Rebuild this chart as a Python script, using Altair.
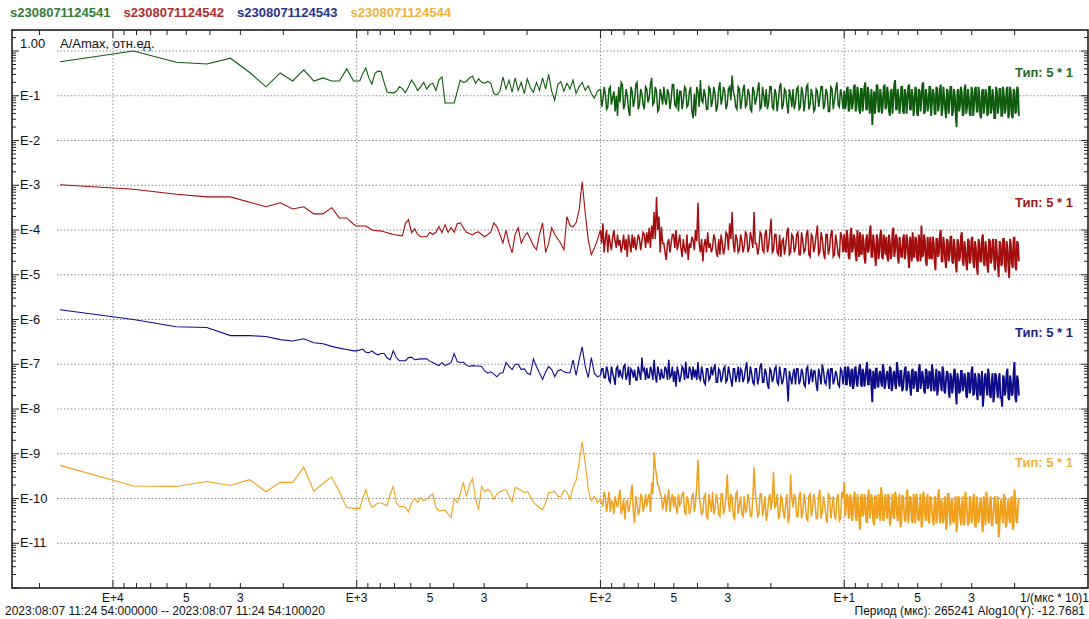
import math
import altair as alt
import pandas as pd

FONT = "Liberation Sans"

SERIES = ["s2308071124541", "s2308071124542", "s2308071124543", "s2308071124544"]
LINE_COLORS = ["#0e5c0e", "#a30d0d", "#0d0d8a", "#f0a01a"]
TEXT_COLORS = ["#2e7d32", "#b22a2a", "#27348b", "#f2b13c"]
TYPE_COLORS = ["#1f6b1f", "#a01818", "#1a237e", "#f0b040"]
TYPE_LABEL = "Тип: 5 * 1"

# ---- x grid: log10(period, мкс) ----
LP0 = 4.217                      # log10 of the longest period
HARMONICS = list(range(1, 17))   # first harmonics, drawn one by one
SEG_B = (3.0, 0.0125, 80)        # start, step, count (log10 period)
SEG_C = (2.0, 0.01, 100)
SEG_C2 = (1.995, 0.01, 100)      # in-between samples of segment C
SEG_D = (1.0, 0.0072, 100)
SEG_D2 = (0.9964, 0.0072, 100)   # in-between samples of segment D

# ---- series values: log10(A/Amax) incl. display offset (Тип 5*1) ----
GREEN_A = [-0.24, 0.0, -0.25, -0.29, -0.16, -0.48, -0.80, -0.49, -0.67, -0.42,
           -0.67, -0.60, -0.67, -0.67, -0.40, -0.67]
GREEN_B = [-0.67, -0.67, -0.5, -0.38, -0.6, -0.74, -0.5, -0.45, -0.46, -0.7,
           -0.92, -0.93, -0.94, -0.9, -0.8, -0.84, -0.93, -0.8, -0.65, -0.75,
           -0.88, -0.8, -0.7, -0.85, -0.75, -0.72, -0.88, -0.65, -0.58, -1.16,
           -1.16, -1.16, -1.16, -0.9, -0.65, -0.7, -0.68, -0.6, -0.56, -0.72,
           -0.62, -0.7, -0.72, -0.68, -0.72, -0.95, -0.98, -0.9, -0.58, -0.85,
           -0.65, -0.92, -0.6, -0.88, -0.7, -0.95, -0.62, -0.82, -0.92, -0.7,
           -0.88, -0.6, -0.85, -0.52, -0.9, -1.1, -0.75, -0.68, -0.9, -0.72,
           -0.85, -0.65, -0.95, -0.8, -0.7, -0.88, -0.78, -0.95, -1.05, -0.9]
GREEN_C = [-0.85, -1.1, -0.95, -1.25, -0.8, -1.05, -1.35, -1.45, -1.15, -0.75,
           -1.2, -1.0, -1.45, -0.9, -1.1, -0.7, -1.2, -0.95, -1.3, -0.85,
           -1.05, -0.6, -1.15, -0.9, -1.3, -1.0, -0.8, -1.2, -0.95, -1.1,
           -0.75, -1.25, -1.35, -0.9, -1.1, -0.85, -1.2, -0.8, -1.5, -1.45,
           -0.9, -0.65, -1.15, -1.0, -1.3, -0.85, -1.1, -0.95, -1.25, -0.7,
           -1.05, -0.9, -1.2, -0.8, -0.55, -1.0, -1.3, -0.85, -1.1, -0.75,
           -1.2, -0.95, -1.35, -0.9, -1.05, -0.7, -1.25, -1.0, -0.85, -1.15,
           -0.8, -1.3, -0.95, -1.1, -0.72, -1.2, -0.9, -1.4, -1.0, -0.85,
           -1.15, -0.8, -1.25, -0.95, -1.1, -0.75, -1.2, -1.0, -1.3, -0.9,
           -1.05, -0.8, -1.2, -0.95, -1.35, -0.85, -1.1, -0.7, -1.25, -1.0]
GREEN_C2 = [-1.25, -0.8, -1.3, -0.85, -1.2, -0.9, -1.0, -0.8, -0.7, -1.3,
            -0.85, -1.3, -0.8, -1.25, -0.75, -1.3, -0.85, -1.2, -0.8, -1.15,
            -0.75, -1.2, -0.8, -1.35, -0.85, -1.2, -1.1, -0.85, -1.3, -0.75,
            -1.2, -0.85, -0.9, -1.3, -0.8, -1.25, -0.9, -1.35, -0.95, -0.8,
            -1.25, -1.1, -0.85, -1.3, -0.8, -1.25, -0.8, -1.35, -0.85, -1.2,
            -0.8, -1.3, -0.85, -1.1, -0.9, -1.25, -0.8, -1.3, -0.85, -1.25,
            -0.85, -1.3, -0.8, -1.2, -0.85, -1.3, -0.8, -1.25, -1.3, -0.8,
            -1.25, -0.85, -1.35, -0.8, -1.3, -0.85, -1.2, -0.85, -1.25, -1.3,
            -0.85, -1.3, -0.8, -1.35, -0.8, -1.3, -0.85, -1.35, -0.85, -1.25,
            -0.8, -1.3, -0.85, -1.35, -0.8, -1.3, -0.85, -1.2, -0.85, -1.3]
GREEN_D = [-0.9, -1.2, -0.8, -1.3, -1.0, -1.15, -0.75, -1.25, -0.95, -1.4,
           -0.85, -1.1, -0.7, -1.3, -1.0, -1.2, -1.65, -0.9, -1.15, -0.8,
           -1.35, -1.0, -1.2, -0.75, -1.25, -0.95, -1.45, -0.85, -1.1, -0.65,
           -1.3, -1.05, -1.2, -0.8, -1.4, -0.95, -1.15, -0.75, -1.3, -1.0,
           -1.2, -0.85, -1.45, -0.9, -1.1, -0.7, -1.35, -1.0, -1.25, -0.8,
           -1.15, -0.95, -1.4, -0.85, -1.2, -0.75, -1.3, -1.05, -1.5, -0.9,
           -1.15, -0.8, -1.35, -1.0, -1.7, -0.85, -1.2, -0.95, -1.4, -0.75,
           -1.25, -1.05, -1.45, -0.9, -1.2, -0.8, -1.35, -1.0, -1.5, -0.85,
           -1.2, -0.95, -1.4, -0.8, -1.3, -1.05, -1.5, -0.9, -1.25, -0.85,
           -1.45, -1.0, -1.3, -0.8, -1.4, -0.95, -1.5, -0.9, -1.35, -0.85]
GREEN_D2 = [-1.3, -0.85, -1.35, -0.85, -1.3, -0.8, -1.35, -0.8, -1.3, -0.85,
            -1.35, -0.8, -1.3, -0.8, -1.4, -0.85, -1.2, -1.4, -0.75, -1.35,
            -0.85, -1.4, -0.8, -1.3, -0.8, -1.35, -0.9, -1.4, -0.75, -1.3,
            -0.85, -1.4, -0.8, -1.35, -0.85, -1.4, -0.8, -1.3, -0.85, -1.45,
            -0.8, -1.4, -0.85, -1.35, -0.75, -1.4, -0.85, -1.35, -0.8, -1.45,
            -0.85, -1.4, -0.8, -1.35, -0.85, -1.45, -0.8, -1.3, -0.85, -1.4,
            -0.8, -1.45, -0.85, -1.4, -0.9, -1.35, -0.8, -1.45, -0.85, -1.4,
            -0.85, -1.4, -0.8, -1.45, -0.85, -1.35, -0.8, -1.45, -0.9, -1.4,
            -0.85, -1.45, -0.8, -1.4, -0.85, -1.5, -0.8, -1.4, -0.85, -1.45,
            -0.8, -1.4, -0.85, -1.5, -0.8, -1.45, -0.85, -1.4, -0.8, -1.45]

RED_A = [-2.99, -3.09, -3.20, -3.26, -3.26, -3.38, -3.48, -3.39, -3.53, -3.48,
         -3.64, -3.64, -3.50, -3.73, -3.73, -3.87]
RED_B = [-3.91, -3.91, -3.91, -3.91, -3.95, -4.0, -4.01, -4.02, -4.02, -4.04,
         -4.06, -4.08, -4.1, -4.11, -4.12, -4.13, -3.85, -3.77, -4.06, -3.97,
         -4.1, -4.15, -4.15, -4.15, -4.05, -4.1, -4.05, -3.92, -4.06, -3.88,
         -4.05, -3.95, -4.05, -3.86, -3.84, -3.95, -4.05, -4.08, -4.11, -4.06,
         -4.04, -4.1, -4.15, -4.1, -4.05, -3.84, -3.93, -4.1, -4.29, -4.0,
         -4.3, -4.51, -4.1, -3.95, -4.29, -4.15, -4.06, -4.2, -4.35, -4.44,
         -4.1, -3.84, -4.5, -4.3, -3.95, -4.1, -4.2, -4.3, -4.44, -3.7,
         -3.9, -3.93, -3.84, -3.55, -2.92, -3.62, -4.22, -4.55, -4.4, -4.22]
RED_C = [-4.0, -3.85, -4.2, -4.5, -4.3, -4.15, -4.25, -4.1, -4.22, -4.35,
         -4.45, -4.6, -4.3, -4.1, -4.15, -4.3, -4.2, -4.25, -4.1, -4.05,
         -3.95, -3.9, -3.6, -3.26, -3.7, -3.93, -4.3, -4.67, -4.2, -4.3,
         -4.1, -4.0, -4.3, -4.4, -4.2, -4.5, -4.67, -4.4, -4.22, -4.0,
         -3.39, -4.5, -4.7, -4.2, -4.05, -4.3, -4.4, -4.2, -4.6, -4.55,
         -4.3, -4.4, -4.1, -3.85, -3.6, -4.5, -4.2, -4.45, -4.25, -4.35,
         -4.1, -4.4, -4.2, -3.6, -4.3, -4.4, -4.1, -4.5, -4.0, -4.35,
         -3.75, -4.45, -4.1, -4.55, -4.6, -4.2, -4.35, -3.95, -4.5, -4.15,
         -4.4, -4.05, -4.55, -4.25, -4.45, -4.0, -4.6, -4.15, -4.35, -3.9,
         -4.5, -4.2, -4.65, -4.1, -4.4, -4.0, -4.55, -4.3, -4.6, -4.15]
RED_C2 = [-4.3, -4.5, -4.0, -4.1, -4.45, -4.0, -4.4, -4.35, -4.5, -4.1,
          -4.2, -4.1, -4.5, -4.4, -4.45, -4.1, -4.45, -4.05, -4.4, -4.3,
          -4.4, -4.2, -4.2, -4.0, -4.5, -4.3, -4.5, -4.3, -4.5, -4.1,
          -4.4, -4.45, -4.1, -4.6, -4.45, -4.1, -4.3, -4.15, -4.45, -4.25,
          -4.3, -4.2, -4.35, -4.5, -4.4, -4.5, -4.1, -4.5, -4.2, -4.1,
          -4.55, -4.05, -4.45, -4.2, -4.3, -4.1, -4.5, -4.1, -4.5, -4.05,
          -4.5, -4.05, -4.4, -4.3, -4.55, -4.05, -4.45, -4.1, -4.5, -4.05,
          -4.5, -4.1, -4.5, -4.1, -4.25, -4.55, -4.05, -4.55, -4.1, -4.5,
          -4.1, -4.55, -4.05, -4.5, -4.1, -4.55, -4.1, -4.5, -4.1, -4.55,
          -4.05, -4.5, -4.1, -4.55, -4.1, -4.6, -4.1, -4.55, -4.05, -4.5]
RED_D = [-4.1, -4.5, -4.2, -4.65, -3.95, -4.4, -4.2, -4.7, -4.3, -4.05,
         -4.55, -4.25, -4.75, -4.1, -4.45, -3.9, -4.6, -4.3, -4.8, -4.2,
         -4.5, -4.0, -4.65, -4.35, -4.15, -4.7, -4.3, -4.55, -3.95, -4.45,
         -4.2, -4.75, -4.35, -4.6, -4.1, -4.5, -4.25, -4.85, -4.3, -4.05,
         -4.6, -4.2, -4.7, -4.35, -3.9, -4.55, -4.25, -4.8, -4.4, -4.15,
         -4.65, -4.3, -4.9, -4.2, -4.5, -4.0, -4.7, -4.35, -4.85, -4.25,
         -4.55, -4.15, -4.75, -4.4, -4.95, -4.3, -4.6, -4.05, -4.8, -4.45,
         -4.9, -4.25, -4.65, -4.15, -4.85, -4.4, -5.0, -4.3, -4.7, -4.1,
         -4.8, -4.45, -4.95, -4.25, -4.65, -4.2, -4.9, -4.5, -5.05, -4.3,
         -4.75, -4.2, -4.95, -4.4, -5.07, -4.35, -4.85, -4.15, -4.9, -4.3]
RED_D2 = [-4.45, -4.0, -4.6, -4.1, -4.5, -4.1, -4.55, -4.0, -4.6, -4.5,
          -4.1, -4.6, -4.2, -4.5, -4.05, -4.6, -4.1, -4.55, -4.1, -4.65,
          -4.1, -4.6, -4.1, -4.55, -4.6, -4.1, -4.65, -4.05, -4.6, -4.1,
          -4.6, -4.15, -4.6, -4.2, -4.65, -4.1, -4.6, -4.15, -4.7, -4.6,
          -4.15, -4.65, -4.1, -4.7, -4.6, -4.1, -4.7, -4.15, -4.65, -4.6,
          -4.15, -4.7, -4.2, -4.6, -4.1, -4.7, -4.15, -4.65, -4.2, -4.7,
          -4.15, -4.7, -4.2, -4.75, -4.2, -4.7, -4.15, -4.7, -4.25, -4.75,
          -4.2, -4.75, -4.2, -4.7, -4.25, -4.8, -4.2, -4.7, -4.2, -4.75,
          -4.25, -4.8, -4.2, -4.75, -4.25, -4.8, -4.2, -4.75, -4.25, -4.8,
          -4.2, -4.75, -4.25, -4.8, -4.2, -4.75, -4.2, -4.8, -4.25, -4.7]

BLUE_A = [-5.78, -6.0, -6.16, -6.18, -6.36, -6.36, -6.38, -6.45, -6.48, -6.43,
          -6.52, -6.54, -6.6, -6.64, -6.67, -6.7]
BLUE_B = [-6.7, -6.68, -6.66, -6.73, -6.74, -6.7, -6.76, -6.79, -6.76, -6.76,
          -6.86, -6.9, -6.7, -6.85, -6.92, -6.92, -6.92, -6.85, -6.84, -6.9,
          -6.89, -6.88, -6.88, -6.88, -6.93, -6.96, -7.0, -7.03, -6.96, -7.03,
          -7.0, -6.96, -6.76, -6.94, -6.96, -6.95, -7.02, -7.05, -7.03, -7.04,
          -7.04, -7.05, -7.15, -7.2, -7.17, -7.22, -7.28, -7.2, -7.19, -6.96,
          -7.05, -7.12, -7.0, -7.0, -7.12, -7.1, -7.2, -7.23, -6.88, -7.05,
          -7.2, -7.34, -7.17, -7.05, -7.12, -7.28, -7.15, -7.12, -7.17, -7.19,
          -7.19, -6.9, -7.25, -6.9, -6.61, -7.05, -7.3, -6.85, -7.2, -7.28]
BLUE_C = [-7.25, -7.1, -7.3, -7.15, -7.4, -7.2, -7.46, -7.05, -7.12, -7.3,
          -7.01, -7.25, -7.46, -7.15, -7.12, -7.35, -7.2, -6.85, -7.1, -7.08,
          -7.3, -7.15, -6.9, -7.41, -7.2, -7.1, -7.3, -7.12, -6.9, -7.25,
          -7.4, -7.5, -7.2, -7.28, -7.1, -6.94, -7.3, -7.15, -7.05, -7.12,
          -6.95, -7.35, -7.2, -7.45, -7.1, -7.3, -7.25, -7.0, -7.4, -7.15,
          -7.3, -7.05, -7.35, -7.2, -7.5, -7.1, -7.25, -7.4, -7.15, -7.3,
          -6.95, -7.35, -7.2, -7.45, -7.1, -7.3, -6.98, -7.4, -7.2, -7.55,
          -7.15, -7.3, -7.05, -7.45, -7.25, -7.35, -7.1, -7.83, -7.3, -7.2,
          -7.45, -7.1, -7.35, -7.2, -7.5, -7.05, -7.3, -7.4, -7.15, -7.6,
          -7.25, -7.0, -7.4, -7.2, -7.55, -7.1, -7.35, -7.25, -7.5, -7.15]
BLUE_C2 = [-7.1, -7.3, -7.05, -7.35, -7.05, -7.3, -7.1, -7.3, -7.25, -7.05,
           -7.35, -7.05, -7.1, -7.3, -7.35, -7.05, -7.35, -7.15, -7.35, -7.3,
           -7.05, -7.35, -7.25, -7.05, -7.35, -7.3, -7.05, -7.35, -7.3, -7.05,
           -7.15, -7.05, -7.4, -7.05, -7.35, -7.3, -7.05, -7.35, -7.3, -7.35,
           -7.3, -7.05, -7.4, -7.1, -7.35, -7.05, -7.1, -7.4, -7.1, -7.4,
           -7.1, -7.4, -7.05, -7.35, -7.1, -7.4, -7.05, -7.1, -7.4, -7.1,
           -7.4, -7.05, -7.4, -7.1, -7.45, -7.05, -7.4, -7.1, -7.45, -7.1,
           -7.4, -7.1, -7.4, -7.05, -7.45, -7.1, -7.4, -7.15, -7.45, -7.1,
           -7.1, -7.45, -7.1, -7.45, -7.1, -7.45, -7.1, -7.15, -7.45, -7.1,
           -7.45, -7.15, -7.45, -7.1, -7.1, -7.45, -7.15, -7.45, -7.1, -7.45]
BLUE_D = [-7.2, -7.45, -7.05, -7.35, -7.15, -7.55, -7.1, -7.4, -7.25, -7.0,
          -7.5, -7.2, -7.35, -6.95, -7.45, -7.15, -7.85, -7.3, -7.1, -7.5,
          -7.2, -7.4, -7.0, -7.55, -7.25, -7.35, -7.05, -7.6, -7.2, -7.45,
          -6.95, -7.4, -7.15, -7.6, -7.3, -7.05, -7.5, -7.25, -7.7, -7.1,
          -7.45, -7.2, -7.6, -7.0, -7.4, -7.3, -7.65, -7.15, -7.5, -7.25,
          -7.0, -7.55, -7.3, -7.7, -7.15, -7.45, -7.05, -7.6, -7.35, -7.2,
          -7.75, -7.3, -7.5, -7.1, -7.9, -7.35, -7.6, -7.15, -7.5, -7.3,
          -7.75, -7.2, -7.55, -7.05, -7.65, -7.35, -7.8, -7.25, -7.6, -7.95,
          -7.3, -7.5, -7.1, -7.7, -7.4, -7.85, -7.2, -7.55, -7.35, -7.75,
          -7.95, -7.3, -7.6, -7.1, -7.8, -7.4, -7.65, -6.95, -7.85, -7.35]
BLUE_D2 = [-7.05, -7.45, -7.1, -7.5, -7.1, -7.45, -7.05, -7.5, -7.1, -7.45,
           -7.1, -7.5, -7.1, -7.45, -7.1, -7.5, -7.15, -7.55, -7.1, -7.5,
           -7.15, -7.5, -7.1, -7.45, -7.15, -7.55, -7.1, -7.5, -7.15, -7.55,
           -7.1, -7.5, -7.15, -7.55, -7.1, -7.6, -7.15, -7.5, -7.15, -7.55,
           -7.15, -7.6, -7.1, -7.55, -7.15, -7.6, -7.1, -7.55, -7.15, -7.6,
           -7.15, -7.6, -7.1, -7.55, -7.2, -7.6, -7.15, -7.65, -7.15, -7.6,
           -7.2, -7.65, -7.15, -7.6, -7.2, -7.65, -7.15, -7.6, -7.2, -7.7,
           -7.2, -7.65, -7.15, -7.7, -7.2, -7.65, -7.2, -7.7, -7.15, -7.7,
           -7.2, -7.7, -7.25, -7.75, -7.2, -7.7, -7.25, -7.75, -7.2, -7.75,
           -7.25, -7.7, -7.2, -7.75, -7.25, -7.7, -7.2, -7.75, -7.25, -7.7]

ORANGE_A = [-9.26, -9.72, -9.73, -9.62, -9.71, -9.58, -9.85, -9.64, -9.64, -9.3,
            -9.84, -9.66, -9.52, -9.85, -10.2, -10.22]
ORANGE_B = [-10.22, -10.22, -10.0, -9.8, -10.05, -10.2, -10.15, -10.1, -10.1, -10.13,
            -10.16, -9.9, -9.73, -10.1, -10.18, -10.18, -10.2, -10.3, -10.1, -10.0,
            -10.09, -9.98, -10.05, -10.02, -9.95, -9.9, -10.2, -10.28, -10.27, -10.26,
            -10.35, -10.42, -10.0, -10.09, -9.9, -9.64, -9.96, -9.7, -9.55, -10.0,
            -10.25, -9.73, -9.85, -9.8, -9.85, -10.02, -9.9, -9.85, -9.82, -9.8,
            -9.95, -10.07, -9.75, -9.78, -9.82, -9.87, -9.84, -9.95, -10.09, -10.15,
            -10.2, -10.25, -10.1, -9.87, -9.86, -9.84, -9.95, -9.96, -9.82, -9.85,
            -10.02, -9.75, -9.6, -9.2, -8.73, -9.2, -9.8, -10.05, -9.95, -10.1]
ORANGE_C = [-10.0, -10.18, -9.96, -10.1, -10.3, -10.09, -9.95, -10.2, -9.8, -10.25,
            -10.47, -10.05, -10.2, -9.69, -10.54, -10.1, -10.3, -9.96, -10.15, -10.18,
            -9.9, -9.64, -8.97, -9.5, -9.73, -9.95, -10.09, -10.3, -9.8, -10.05,
            -10.2, -10.18, -9.9, -10.1, -9.87, -10.35, -10.05, -10.25, -9.9, -10.1,
            -9.13, -10.15, -10.3, -9.9, -10.45, -10.1, -9.85, -10.25, -10.05, -10.4,
            -9.9, -10.2, -9.46, -10.3, -10.0, -10.45, -9.85, -10.15, -10.35, -9.95,
            -10.25, -10.05, -10.4, -9.3, -10.1, -10.35, -9.9, -10.2, -10.5, -10.0,
            -10.25, -9.4, -10.15, -10.45, -9.95, -10.3, -10.1, -10.55, -9.46, -10.2,
            -10.0, -10.4, -9.85, -10.3, -10.1, -10.5, -9.9, -10.25, -10.05, -10.45,
            -9.8, -10.3, -10.15, -10.55, -9.95, -10.2, -10.4, -10.0, -10.5, -9.85]
ORANGE_C2 = [-10.1, -9.85, -10.3, -9.85, -10.05, -10.35, -10.1, -10.0, -10.35, -10.0,
             -10.1, -10.3, -9.9, -10.3, -9.95, -10.35, -9.9, -10.3, -9.9, -10.0,
             -10.3, -9.9, -9.3, -9.7, -9.9, -10.25, -9.9, -10.0, -10.3, -9.9,
             -9.95, -10.35, -10.15, -9.9, -10.3, -9.95, -10.35, -9.95, -10.3, -9.7,
             -9.9, -10.35, -9.95, -10.4, -9.9, -10.3, -10.35, -9.9, -10.35, -9.9,
             -10.35, -9.95, -10.1, -9.9, -10.4, -9.9, -10.35, -9.95, -10.4, -10.3,
             -9.9, -10.4, -10.0, -9.85, -10.4, -9.9, -10.4, -9.95, -10.35, -9.9,
             -10.0, -10.2, -9.9, -10.4, -10.0, -10.45, -9.9, -10.4, -10.0, -9.9,
             -10.4, -9.95, -10.45, -9.9, -10.45, -9.95, -10.4, -9.9, -10.45, -9.95,
             -10.45, -9.95, -10.4, -9.9, -10.45, -9.95, -10.45, -9.9, -10.45, -10.0]
ORANGE_D = [-9.65, -10.2, -9.95, -10.4, -10.05, -10.3, -9.85, -10.5, -10.15, -10.7,
            -9.9, -10.35, -10.05, -10.55, -9.8, -10.25, -10.1, -10.6, -9.95, -10.4,
            -10.15, -9.75, -10.45, -10.05, -10.3, -9.9, -10.6, -10.2, -10.4, -9.85,
            -10.35, -10.1, -10.65, -9.95, -10.25, -10.5, -9.8, -10.3, -10.05, -10.55,
            -10.15, -9.9, -10.45, -10.2, -10.65, -9.85, -10.35, -10.1, -10.5, -9.95,
            -10.3, -10.6, -10.0, -10.4, -9.8, -10.25, -10.55, -10.1, -10.7, -9.9,
            -10.35, -10.05, -10.5, -10.2, -10.75, -9.95, -10.4, -10.15, -10.6, -9.85,
            -10.3, -10.55, -10.05, -10.45, -9.9, -10.65, -10.2, -10.4, -10.0, -10.75,
            -10.25, -9.85, -10.5, -10.1, -10.6, -10.3, -9.95, -10.55, -10.87, -10.15,
            -10.4, -9.9, -10.65, -10.2, -10.45, -10.05, -10.7, -9.8, -10.5, -10.2]
ORANGE_D2 = [-10.4, -9.9, -10.45, -9.9, -10.5, -9.95, -10.4, -9.9, -10.45, -9.95,
             -10.4, -9.9, -10.5, -9.95, -10.45, -9.9, -10.5, -9.95, -10.45, -9.9,
             -10.5, -9.95, -10.5, -9.9, -10.45, -9.95, -10.5, -9.9, -10.45, -9.95,
             -10.5, -9.9, -10.55, -9.95, -10.5, -9.9, -10.55, -9.95, -10.5, -9.9,
             -10.55, -10.0, -10.5, -9.9, -10.55, -9.95, -10.5, -9.9, -10.55, -10.0,
             -10.5, -9.95, -10.55, -9.9, -10.55, -10.0, -10.5, -9.95, -10.55, -9.9,
             -10.6, -10.0, -10.55, -9.95, -10.5, -10.0, -10.6, -9.95, -10.55, -10.0,
             -10.6, -9.95, -10.55, -10.0, -10.6, -9.95, -10.55, -10.0, -10.6, -9.95,
             -10.6, -10.0, -10.55, -9.95, -10.6, -10.0, -10.55, -9.95, -10.6, -10.0,
             -10.55, -9.95, -10.6, -10.0, -10.55, -9.95, -10.6, -10.0, -10.55, -10.0]

SERIES_PARTS = [
    (GREEN_A, GREEN_B, GREEN_C, GREEN_C2, GREEN_D, GREEN_D2),
    (RED_A, RED_B, RED_C, RED_C2, RED_D, RED_D2),
    (BLUE_A, BLUE_B, BLUE_C, BLUE_C2, BLUE_D, BLUE_D2),
    (ORANGE_A, ORANGE_B, ORANGE_C, ORANGE_C2, ORANGE_D, ORANGE_D2),
]

# ---- axis texts ----
X_DECADES = [4, 3, 2, 1]
X_DECADE_LABELS = ["E+4", "E+3", "E+2", "E+1"]
X_MINOR_LABELS = ["5", "3"]            # printed at 5*10^n and 3*10^n
X_END_LABEL = "1/(мкс * 10)1"
Y_DECADES = list(range(-1, -12, -1))
Y_LABELS = ["E%d" % d for d in Y_DECADES]
DATE_TEXT = "2023:08:07 11:24 54:000000 -- 2023:08:07 11:24 54:100020"
CURSOR_TEXT = "Период (мкс): 265241  Alog10(Y): -12.7681"
Y_TITLE = "A/Amax, отн.ед."
Y_TOP_LABEL = "1.00"

# ---------------- build data ----------------
grids = [[LP0 - math.log10(k) for k in HARMONICS]]
for start, step, n in (SEG_B, SEG_C, SEG_C2, SEG_D, SEG_D2):
    grids.append([start - step * i for i in range(n)])

rows = []
for name, parts in zip(SERIES, SERIES_PARTS):
    pts = []
    for g, vals in zip(grids, parts):
        pts += list(zip(g, vals))
    pts.sort(key=lambda p: -p[0])
    for i, (lp, v) in enumerate(pts):
        rows.append({"series": name, "idx": i, "lp": lp, "v": v})
df = pd.DataFrame(rows)

W, H = 1076, 558
XS = alt.Scale(domain=[0, 4.414], reverse=True, nice=False, zero=False)
YS = alt.Scale(domain=[-12, 0.47], nice=False, zero=False)
CS = alt.Scale(domain=SERIES, range=LINE_COLORS)


def line_part(part, width):
    return alt.Chart(part).mark_line(strokeWidth=width, clip=True).encode(
        x=alt.X("lp:Q", scale=XS, axis=None),
        y=alt.Y("v:Q", scale=YS, axis=None),
        color=alt.Color("series:N", scale=CS, legend=None),
        order="idx:Q",
    )


lines = [
    line_part(df[df.lp >= 1.999], 1.1),
    line_part(df[(df.lp <= 2.001) & (df.lp >= 0.999)], 1.5),
    line_part(df[df.lp <= 1.001], 1.9),
]

GRID_STYLE = dict(color="#8c8c8c", strokeDash=[1.5, 2], strokeWidth=1)
xgrid = alt.Chart(pd.DataFrame({"lp": X_DECADES})).mark_rule(**GRID_STYLE).encode(
    x=alt.X("lp:Q", scale=XS, axis=None))
ygrid = alt.Chart(pd.DataFrame({"v": [0] + Y_DECADES})).mark_rule(**GRID_STYLE).encode(
    y=alt.Y("v:Q", scale=YS, axis=None), x=alt.value(45), x2=alt.value(1070))

# log tick positions
x_minor = [d + math.log10(m) for d in range(4) for m in range(2, 10)] + [4 + math.log10(2)]
x_major = X_DECADES
y_minor = [d + math.log10(m) for d in range(-12, 1) for m in range(2, 10) if d + math.log10(m) < 0.47]
y_major = list(range(-12, 1))

TICK = dict(color="#222", strokeWidth=1)


def xticks(vals, y1, y2):
    return alt.Chart(pd.DataFrame({"lp": vals})).mark_rule(**TICK).encode(
        x=alt.X("lp:Q", scale=XS, axis=None), y=alt.value(y1), y2=alt.value(y2))


def yticks(vals, x1, x2):
    return alt.Chart(pd.DataFrame({"v": vals})).mark_rule(**TICK).encode(
        y=alt.Y("v:Q", scale=YS, axis=None), x=alt.value(x1), x2=alt.value(x2))


ticks = [
    xticks(x_minor, H, H - 5), xticks(x_major, H, H - 8),
    xticks(x_minor, 0, 5), xticks(x_major, 0, 8),
    yticks(y_minor, 0, 4), yticks(y_major, 0, 7),
    yticks(y_minor, W, W - 4), yticks(y_major, W, W - 7),
]

# tick labels as text marks on the shared scales
xl_vals, xl_text = [], []
for d, t in zip(X_DECADES, X_DECADE_LABELS):
    xl_vals.append(d)
    xl_text.append(t)
for d in range(4):
    for m, t in zip([5, 3], X_MINOR_LABELS):
        xl_vals.append(d + math.log10(m))
        xl_text.append(t)
x_labels = alt.Chart(pd.DataFrame({"lp": xl_vals, "t": xl_text})).mark_text(
    align="center", baseline="middle", font=FONT, fontSize=12, color="#111"
).encode(x=alt.X("lp:Q", scale=XS, axis=None), y=alt.value(H + 10), text="t:N")

y_labels = alt.Chart(pd.DataFrame({"v": Y_DECADES, "t": Y_LABELS})).mark_text(
    align="left", baseline="middle", font=FONT, fontSize=13, color="#111"
).encode(y=alt.Y("v:Q", scale=YS, axis=None), x=alt.value(8), text="t:N")


def label(text, x, y, color="#111", size=12, align="left", weight="normal"):
    return alt.Chart(alt.Data(values=[{"t": text}])).mark_text(
        align=align, baseline="middle", font=FONT, fontSize=size, color=color, fontWeight=weight
    ).encode(x=alt.value(x), y=alt.value(y), text="t:N")


texts = [x_labels, y_labels]
for i, (name, col) in enumerate(zip(SERIES, TEXT_COLORS)):
    texts.append(label(name, -2 + i * 113.5, -17, color=col, size=13, weight="bold"))
for col, ypx in zip(TYPE_COLORS, [43, 173, 303, 433]):
    texts.append(label(TYPE_LABEL, 1061, ypx, color=col, size=13, align="right", weight="bold"))
texts.append(label(Y_TOP_LABEL, 8, 14, size=13))
texts.append(label(Y_TITLE, 48, 14, size=13))
texts.append(label(X_END_LABEL, W + 1, H + 10, size=12, align="right"))
texts.append(label(DATE_TEXT, -7, 581, size=12))
texts.append(label(CURSOR_TEXT, 1073, 581, size=12, align="right"))

chart = alt.layer(xgrid, ygrid, *ticks, *lines, *texts).properties(
    width=W, height=H,
    autosize="none",
    padding={"left": 12, "top": 30, "right": 1, "bottom": 31},
    background="white",
).configure_view(stroke="#111", strokeWidth=1.5)

chart.save("out.html", embed_options={"renderer": "svg", "actions": False})
